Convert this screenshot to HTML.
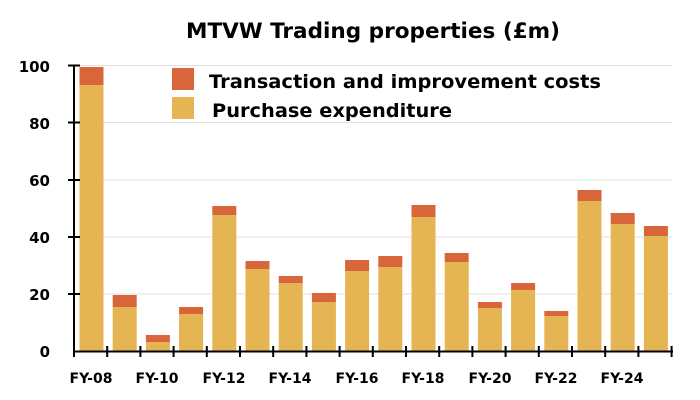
<!DOCTYPE html>
<html><head><style>body{margin:0;background:#fff}svg{display:block}text{font-family:"DejaVu Sans","Liberation Sans",sans-serif;font-weight:bold;fill:#000}</style></head><body>
<svg width="700" height="400" viewBox="0 0 700 400">
<text x="186" y="38" font-size="21" textLength="374" lengthAdjust="spacingAndGlyphs">MTVW Trading properties (£m)</text>
<g stroke="#e0e0e0" stroke-width="1">
<line x1="74" x2="672" y1="65.5" y2="65.5"/><line x1="74" x2="672" y1="122.5" y2="122.5"/><line x1="74" x2="672" y1="180" y2="180"/><line x1="74" x2="672" y1="237" y2="237"/><line x1="74" x2="672" y1="294" y2="294"/>
</g>
<g font-size="15" text-anchor="end">
<text x="50" y="357">0</text><text x="50" y="300">20</text><text x="50" y="243">40</text><text x="50" y="186">60</text><text x="50" y="129">80</text><text x="50" y="72">100</text>
</g>
<g fill="#d9663a">
<rect x="79.5" y="67" width="24" height="18"/><rect x="112.7" y="295" width="24" height="12"/><rect x="145.9" y="335" width="24" height="7"/><rect x="179.1" y="307" width="24" height="7"/><rect x="212.3" y="206" width="24" height="9"/><rect x="245.5" y="261" width="24" height="8"/><rect x="278.7" y="276" width="24" height="7"/><rect x="311.9" y="293" width="24" height="9"/><rect x="345.1" y="260" width="24" height="11"/><rect x="378.3" y="256" width="24" height="11"/><rect x="411.5" y="205" width="24" height="12"/><rect x="444.7" y="253" width="24" height="9"/><rect x="477.9" y="302" width="24" height="6"/><rect x="511.1" y="283" width="24" height="7"/><rect x="544.3" y="311" width="24" height="5"/><rect x="577.5" y="190" width="24" height="11"/><rect x="610.7" y="213" width="24" height="11"/><rect x="643.9" y="226" width="24" height="10"/>
</g>
<g fill="#e4b552">
<rect x="79.5" y="85" width="24" height="266"/><rect x="112.7" y="307" width="24" height="44"/><rect x="145.9" y="342" width="24" height="9"/><rect x="179.1" y="314" width="24" height="37"/><rect x="212.3" y="215" width="24" height="136"/><rect x="245.5" y="269" width="24" height="82"/><rect x="278.7" y="283" width="24" height="68"/><rect x="311.9" y="302" width="24" height="49"/><rect x="345.1" y="271" width="24" height="80"/><rect x="378.3" y="267" width="24" height="84"/><rect x="411.5" y="217" width="24" height="134"/><rect x="444.7" y="262" width="24" height="89"/><rect x="477.9" y="308" width="24" height="43"/><rect x="511.1" y="290" width="24" height="61"/><rect x="544.3" y="316" width="24" height="35"/><rect x="577.5" y="201" width="24" height="150"/><rect x="610.7" y="224" width="24" height="127"/><rect x="643.9" y="236" width="24" height="115"/>
</g>
<g stroke="#000" stroke-width="2">
<line x1="74" x2="74" y1="65" y2="352"/><line x1="73" x2="673" y1="351.5" y2="351.5"/>
<line x1="68" x2="80" y1="65.5" y2="65.5"/><line x1="68" x2="80" y1="122.5" y2="122.5"/><line x1="68" x2="80" y1="180" y2="180"/><line x1="68" x2="80" y1="237" y2="237"/><line x1="68" x2="80" y1="294" y2="294"/>
<path d="M74 346V357M107.2 346V357M140.4 346V357M173.6 346V357M206.8 346V357M240 346V357M273.2 346V357M306.4 346V357M339.6 346V357M372.8 346V357M406 346V357M439.2 346V357M472.4 346V357M505.6 346V357M538.8 346V357M572 346V357M605.2 346V357M638.4 346V357M671.6 346V357"/>
</g>
<rect x="172" y="68" width="22" height="22" fill="#d9663a"/>
<rect x="172" y="97" width="22" height="22" fill="#e4b552"/>
<text x="209" y="88" font-size="19" textLength="392" lengthAdjust="spacingAndGlyphs">Transaction and improvement costs</text>
<text x="212" y="117" font-size="19" textLength="240" lengthAdjust="spacingAndGlyphs">Purchase expenditure</text>
<g font-size="14" text-anchor="middle">
<text x="91" y="383">FY-08</text><text x="157" y="383">FY-10</text><text x="224" y="383">FY-12</text><text x="290" y="383">FY-14</text><text x="357" y="383">FY-16</text><text x="423" y="383">FY-18</text><text x="490" y="383">FY-20</text><text x="556" y="383">FY-22</text><text x="622" y="383">FY-24</text>
</g>
</svg>
</body></html>
